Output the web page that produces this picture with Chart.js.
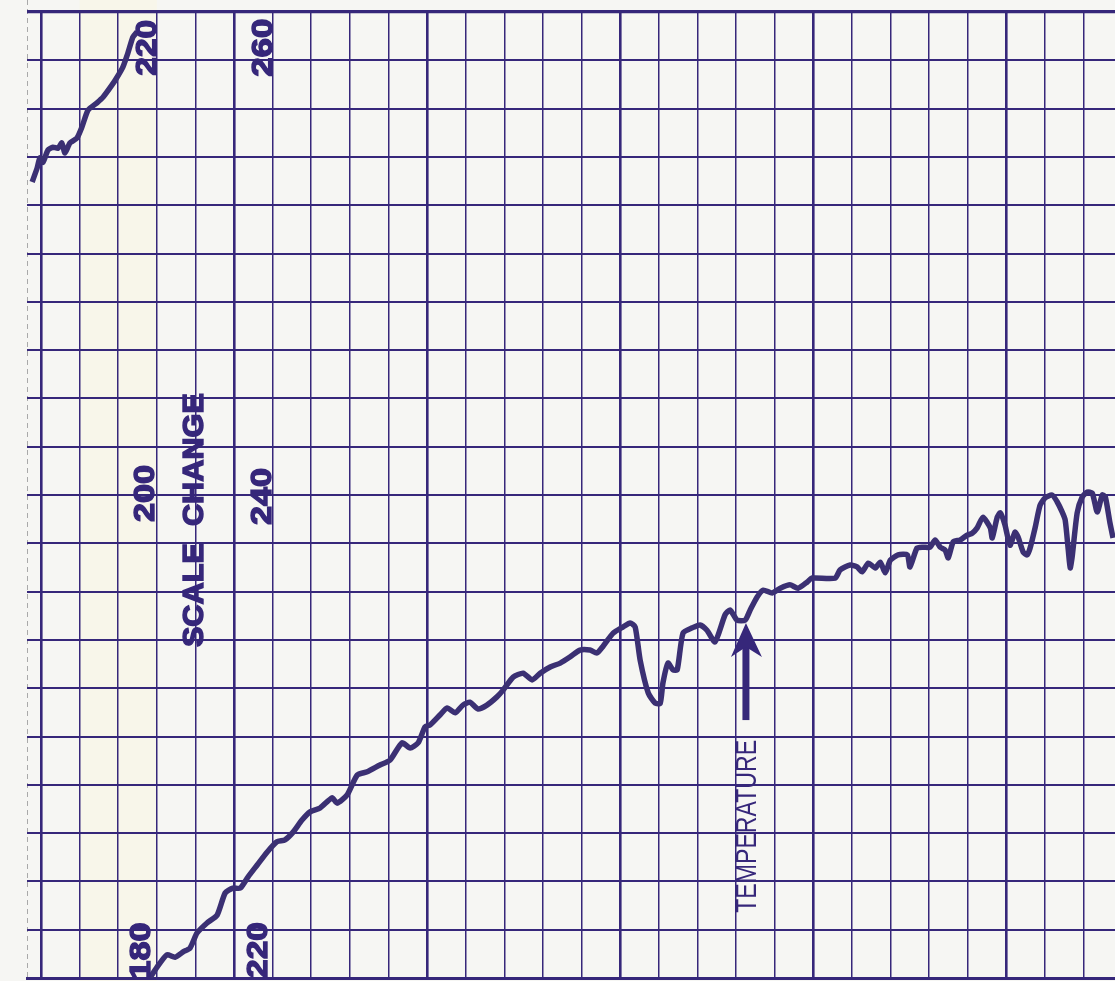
<!DOCTYPE html>
<html>
<head>
<meta charset="utf-8">
<script src="https://cdn.jsdelivr.net/npm/chart.js@4.4.1/dist/chart.umd.min.js"></script>
<style>
  html, body { margin: 0; padding: 0; background: #f6f6f3; }
  #wrap { width: 1115px; height: 981px; }
</style>
</head>
<body>
<div id="wrap"><canvas id="chart"></canvas></div>
<script>
// time in chart divisions (x), pen level in chart divisions (y)
const topTimes = [-0.23, -0.10, -0.03, 0.05, 0.18, 0.31, 0.44, 0.54, 0.62, 0.75, 0.93, 1.06, 1.22, 1.45, 1.61, 1.84, 1.97, 2.12, 2.25, 2.38, 2.49];
const topLevels = [16.48, 16.77, 16.98, 16.89, 17.14, 17.20, 17.18, 17.29, 17.08, 17.29, 17.39, 17.62, 17.97, 18.12, 18.24, 18.49, 18.65, 18.86, 19.15, 19.48, 19.59];

const mainTimes = [
  2.77, 3.01, 3.26, 3.47, 3.68, 3.86, 4.04, 4.30, 4.56, 4.77, 4.97, 5.16, 5.36, 5.60, 5.86, 6.11, 6.32, 6.53, 6.76, 6.97,
  7.23, 7.54, 7.67, 7.93, 8.19, 8.45, 8.78, 9.04, 9.35, 9.56, 9.77, 9.95, 10.08, 10.34, 10.52, 10.73, 10.93, 11.11, 11.32, 11.55,
  11.81, 11.97, 12.23, 12.49, 12.72, 12.93, 13.19, 13.45, 13.71, 13.96, 14.22, 14.40, 14.56, 14.82, 15.08, 15.26, 15.39, 15.52, 15.73, 15.91,
  16.04, 16.11, 16.24, 16.37, 16.48, 16.63, 16.87, 17.07, 17.25, 17.46, 17.72, 17.85, 18.03, 18.24, 18.37, 18.55, 18.71, 18.94, 19.15, 19.40,
  19.61, 19.85, 19.97, 20.57, 20.70, 20.96, 21.14, 21.27, 21.43, 21.61, 21.74, 21.87, 22.00, 22.20, 22.44, 22.51, 22.69, 22.85, 23.03, 23.16,
  23.29, 23.42, 23.50, 23.63, 23.81, 23.99, 24.12, 24.25, 24.40, 24.59, 24.64, 24.77, 24.85, 24.97, 25.10, 25.23, 25.31, 25.44, 25.54, 25.62,
  25.75, 25.88, 26.01, 26.19, 26.32, 26.45, 26.53, 26.61, 26.66, 26.71, 26.84, 26.97, 27.10, 27.23, 27.36, 27.49, 27.57, 27.69, 27.77
];
const mainLevels = [
  -0.06, 0.23, 0.48, 0.43, 0.54, 0.62, 0.93, 1.14, 1.30, 1.76, 1.86, 1.86, 2.09, 2.34, 2.61, 2.82, 2.86, 3.02, 3.27, 3.44,
  3.52, 3.73, 3.62, 3.79, 4.20, 4.27, 4.41, 4.51, 4.87, 4.76, 4.87, 5.20, 5.24, 5.45, 5.59, 5.49, 5.65, 5.71, 5.57, 5.65,
  5.82, 5.96, 6.23, 6.31, 6.17, 6.31, 6.44, 6.52, 6.65, 6.79, 6.79, 6.73, 6.87, 7.14, 7.27, 7.35, 7.27, 6.58, 5.90, 5.69,
  5.69, 6.11, 6.52, 6.38, 6.38, 7.14, 7.25, 7.31, 7.20, 6.96, 7.52, 7.62, 7.41, 7.41, 7.62, 7.89, 8.03, 7.97, 8.07, 8.14,
  8.07, 8.20, 8.28, 8.28, 8.45, 8.55, 8.51, 8.41, 8.59, 8.49, 8.61, 8.39, 8.65, 8.76, 8.76, 8.51, 8.90, 8.92, 8.92, 9.07,
  8.92, 8.86, 8.70, 9.03, 9.07, 9.17, 9.21, 9.32, 9.54, 9.32, 9.11, 9.54, 9.63, 9.38, 8.96, 9.23, 9.13, 8.82, 8.76, 8.90,
  9.32, 9.79, 9.94, 10.00, 9.86, 9.65, 9.48, 8.86, 8.49, 8.72, 9.63, 9.96, 10.06, 10.04, 9.65, 10.00, 9.96, 9.42, 9.11
];

const gridColumns = [0, 1, 2, 3, 4, 5, 6, 7, 8, 9, 10, 11, 12, 13, 14, 15, 16, 17, 18, 19, 20, 21, 22, 23, 24, 25, 26, 27];
const scaleLabels = ['220', '260', '200', '240', '180', '220'];

const ink = '#36277a';
const penInk = '#3b3073';

// label placement, in chart divisions
const labelSpots = [
  { x: 2.69, y: 19.26, len: 56 },
  { x: 5.70, y: 19.26, len: 58 },
  { x: 2.66, y: 10.03, len: 57 },
  { x: 5.67, y: 9.97, len: 57 },
  { x: 2.54, y: 0.56, len: 57 },
  { x: 5.57, y: 0.58, len: 56 },
];

function drawUp(ctx, text, cx, cy, size, font, len, heavy) {
  ctx.save();
  ctx.font = font;
  const w = ctx.measureText(text).width;
  ctx.translate(cx, cy);
  ctx.rotate(-Math.PI / 2);
  ctx.scale(len / w, 1);
  ctx.textAlign = 'center';
  ctx.textBaseline = 'alphabetic';
  ctx.fillText(text, 0, size * 0.358);
  if (heavy) {
    ctx.lineWidth = 1.4;
    ctx.strokeStyle = ctx.fillStyle;
    ctx.strokeText(text, 0, size * 0.358);
  }
  ctx.restore();
}

const paper = {
  id: 'paper',
  beforeDraw(chart) {
    const { ctx, width, height, chartArea, scales: { x } } = chart;
    ctx.save();
    ctx.fillStyle = '#f6f6f3';
    ctx.fillRect(0, 0, width, height);
    const a = x.getPixelForValue(1);
    const b = x.getPixelForValue(3);
    ctx.fillStyle = '#f8f6ea';
    ctx.fillRect(a, 0, b - a, height);
    // torn margin line on the left
    ctx.strokeStyle = '#a9a9a9';
    ctx.lineWidth = 1;
    ctx.setLineDash([5, 4]);
    ctx.beginPath();
    ctx.moveTo(chartArea.left + 0.5, 0);
    ctx.lineTo(chartArea.left + 0.5, height);
    ctx.stroke();
    ctx.restore();
  },
  afterDatasetsDraw(chart) {
    const { ctx, scales: { x, y } } = chart;
    ctx.save();
    ctx.fillStyle = ink;
    scaleLabels.forEach((t, i) => {
      const s = labelSpots[i];
      drawUp(ctx, t, x.getPixelForValue(s.x), y.getPixelForValue(s.y), 30, 'bold 30px "Liberation Sans", Arial, sans-serif', s.len, true);
    });
    drawUp(ctx, 'SCALE  CHANGE', x.getPixelForValue(3.92), y.getPixelForValue(9.48), 30, 'bold 30px "Liberation Sans", Arial, sans-serif', 254, true);
    drawUp(ctx, 'TEMPERATURE', x.getPixelForValue(18.24), y.getPixelForValue(3.14), 29, '29px "Liberation Sans Narrow", "Liberation Sans", sans-serif', 173, false);

    // arrow pointing at the trace
    const ax = x.getPixelForValue(18.26);
    const tip = y.getPixelForValue(7.35);
    const base = y.getPixelForValue(5.34);
    ctx.strokeStyle = ink;
    ctx.lineWidth = 7;
    ctx.beginPath();
    ctx.moveTo(ax, base);
    ctx.lineTo(ax, tip + 20);
    ctx.stroke();
    ctx.beginPath();
    ctx.moveTo(ax, tip);
    ctx.lineTo(ax + 16, tip + 34);
    ctx.lineTo(ax, tip + 24);
    ctx.lineTo(ax - 15, tip + 34);
    ctx.closePath();
    ctx.fill();
    ctx.restore();
  },
};

const toPoints = (xs, ys) => xs.map((v, i) => ({ x: v, y: ys[i] }));

new Chart(document.getElementById('chart'), {
  type: 'line',
  data: {
    datasets: [
      { data: toPoints(topTimes, topLevels), borderColor: penInk, borderWidth: 5.5, tension: 0.2, borderJoinStyle: 'round' },
      { data: toPoints(mainTimes, mainLevels), borderColor: penInk, borderWidth: 5.5, tension: 0.2, borderJoinStyle: 'round' },
    ],
  },
  options: {
    responsive: true,
    maintainAspectRatio: false,
    animation: false,
    layout: { padding: { left: 27, top: 12, right: 0, bottom: 3 } },
    elements: { point: { radius: 0 } },
    plugins: { legend: { display: false }, tooltip: { enabled: false } },
    scales: {
      x: {
        type: 'linear',
        min: -0.363,
        max: 27.82,
        afterBuildTicks: (s) => { s.ticks = gridColumns.map((v) => ({ value: v })); },
        ticks: { display: false },
        grid: {
          drawTicks: false,
          color: ink,
          lineWidth: (c) => (c.tick && c.tick.value % 5 === 0 ? 2.6 : 1.5),
        },
        border: { display: true, color: ink, width: 3 },
      },
      y: {
        min: 0,
        max: 20,
        ticks: { display: false, stepSize: 1 },
        grid: {
          drawTicks: false,
          color: ink,
          lineWidth: (c) => (c.tick && c.tick.value === 20 ? 3.2 : 1.9),
        },
        border: { display: false },
      },
    },
  },
  plugins: [paper],
});
</script>
</body>
</html>
